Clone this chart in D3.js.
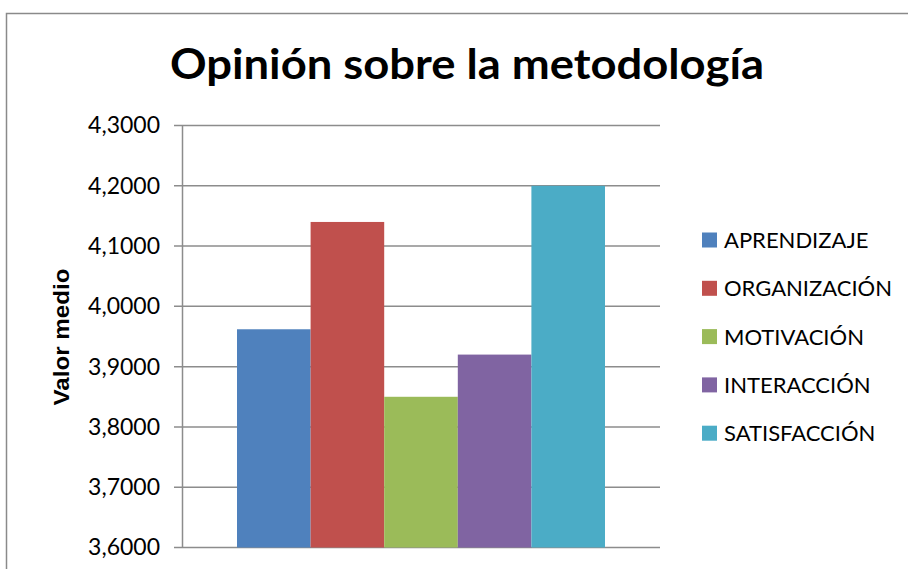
<!DOCTYPE html>
<html lang="es">
<head>
<meta charset="UTF-8">
<title>Opinión sobre la metodología</title>
<script src="https://d3js.org/d3.v7.min.js"></script>
<style>
  body { margin: 0; background: #fff; }
  svg { display: block; }
  text { font-family: Lato, "Open Sans", sans-serif; fill: #000; }
</style>
</head>
<body>
<svg width="908" height="569"></svg>
<script>
const categories = ["APRENDIZAJE", "ORGANIZACIÓN", "MOTIVACIÓN", "INTERACCIÓN", "SATISFACCIÓN"];
const values = [3.962, 4.14, 3.85, 3.92, 4.20];
const colors = ["#4f81bd", "#c0504d", "#9bbb59", "#8064a2", "#4bacc6"];
const yTicks = [3.6, 3.7, 3.8, 3.9, 4.0, 4.1, 4.2, 4.3];

const svg = d3.select("svg");

// chart border (runs off the right and bottom edges)
svg.append("path")
    .attr("d", "M6.5,569 L6.5,13.5 L908,13.5")
    .attr("fill", "none")
    .attr("stroke", "#8a8a8a")
    .attr("stroke-width", 1.5);

svg.append("text")
    .attr("x", 467).attr("y", 79)
    .attr("text-anchor", "middle")
    .attr("font-size", 42).attr("font-weight", "bold")
    .attr("textLength", 594).attr("lengthAdjust", "spacingAndGlyphs")
    .text("Opinión sobre la metodología");

const plot = { left: 182, right: 660, top: 125.5, bottom: 547.5 };

const y = d3.scaleLinear().domain([3.6, 4.3]).range([plot.bottom, plot.top]);
const x = d3.scaleBand().domain(categories).range([237, 605]).padding(0);

// gridlines
svg.append("g")
    .selectAll("line")
    .data(yTicks)
    .join("line")
    .attr("x1", 174).attr("x2", plot.right)
    .attr("y1", d => y(d)).attr("y2", d => y(d))
    .attr("stroke", "#8c8c8c").attr("stroke-width", 1.5);

// bars
svg.append("g")
    .selectAll("rect")
    .data(categories)
    .join("rect")
    .attr("x", d => x(d))
    .attr("width", x.bandwidth())
    .attr("y", (d, i) => y(values[i]))
    .attr("height", (d, i) => y(3.6) - y(values[i]))
    .attr("fill", (d, i) => colors[i]);

// y axis
const yAxis = svg.append("g")
    .attr("transform", `translate(${plot.left},0)`)
    .call(d3.axisLeft(y).tickValues(yTicks).tickSize(0).tickPadding(22)
        .tickFormat(d => d3.format(".4f")(d).replace(".", ",")));
yAxis.select(".domain").attr("stroke", "#8c8c8c").attr("stroke-width", 1.5);
yAxis.selectAll("text")
    .attr("font-size", 23)
    .attr("font-family", "Lato, sans-serif")
    .attr("fill", "#000");

svg.append("text")
    .attr("transform", "translate(69,337) rotate(-90)")
    .attr("text-anchor", "middle")
    .style("font-family", "'Liberation Sans', Arial, sans-serif")
    .style("font-size", "22px").style("font-weight", "bold")
    .attr("textLength", 137).attr("lengthAdjust", "spacingAndGlyphs")
    .text("Valor medio");

// legend
const legend = svg.append("g")
    .selectAll("g")
    .data(categories)
    .join("g")
    .attr("transform", (d, i) => `translate(702,${240 + i * 48.3})`);
legend.append("rect")
    .attr("x", 0).attr("y", -7.5)
    .attr("width", 15).attr("height", 15)
    .attr("fill", (d, i) => colors[i]);
legend.append("text")
    .attr("x", 22).attr("y", 8)
    .attr("font-size", 22)
    .text(d => d);
</script>
</body>
</html>
